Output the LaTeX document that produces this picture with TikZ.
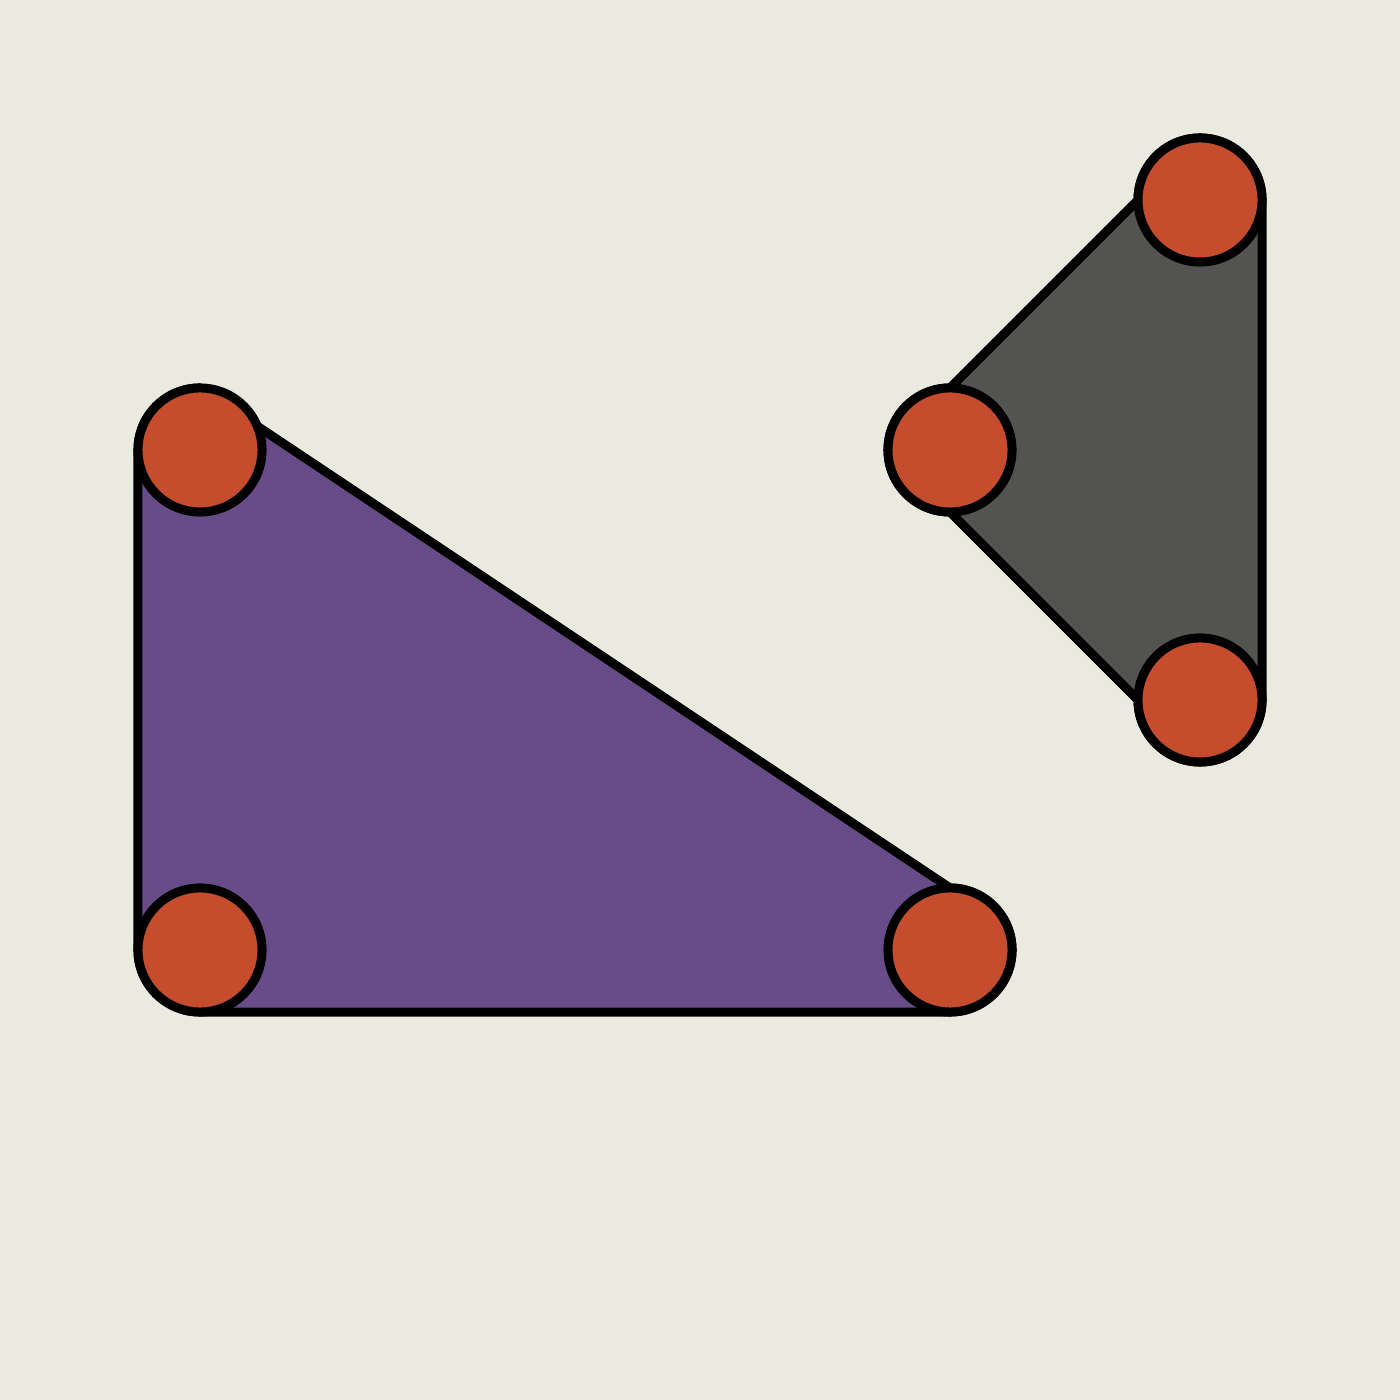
\documentclass[tikz,border=0pt]{standalone}
\definecolor{bgc}{HTML}{EAEADF}
\definecolor{purp}{HTML}{684C8A}
\definecolor{grayf}{HTML}{535351}
\definecolor{vert}{HTML}{C54C2D}
\pgfdeclarelayer{bg}
\pgfdeclarelayer{shapes}
\pgfsetlayers{bg,shapes,main}
\begin{document}
\begin{tikzpicture}[x=0.01cm,y=0.01cm,
  vertex/.style={circle,draw=black,line width=2.56pt,fill=vert,minimum size=1.24cm,inner sep=0pt,outer sep=0pt},
  region/.style={draw=black,line width=2.56pt,line join=round}]
\begin{pgfonlayer}{bg}
  \path[fill=bgc,use as bounding box] (0,0) rectangle (1400,1400);
\end{pgfonlayer}
\node[vertex] (A) at (200,950) {};
\node[vertex] (B) at (200,450) {};
\node[vertex] (C) at (950,450) {};
\node[vertex] (D) at (1200,1200) {};
\node[vertex] (E) at (950,950) {};
\node[vertex] (F) at (1200,700) {};
\begin{pgfonlayer}{shapes}
  \path[region,fill=purp] (A.north) arc[start angle=90,end angle=180,radius=0.62cm]
    -- (B.west) arc[start angle=180,end angle=270,radius=0.62cm]
    -- (C.south) arc[start angle=-90,end angle=90,radius=0.62cm]
    -- cycle;
  \path[region,fill=grayf] (D.north) arc[start angle=90,end angle=0,radius=0.62cm]
    -- (F.east) arc[start angle=0,end angle=-180,radius=0.62cm]
    -- (E.south) arc[start angle=-90,end angle=-270,radius=0.62cm]
    -- (D.west) arc[start angle=180,end angle=90,radius=0.62cm]
    -- cycle;
\end{pgfonlayer}
\end{tikzpicture}
\end{document}
